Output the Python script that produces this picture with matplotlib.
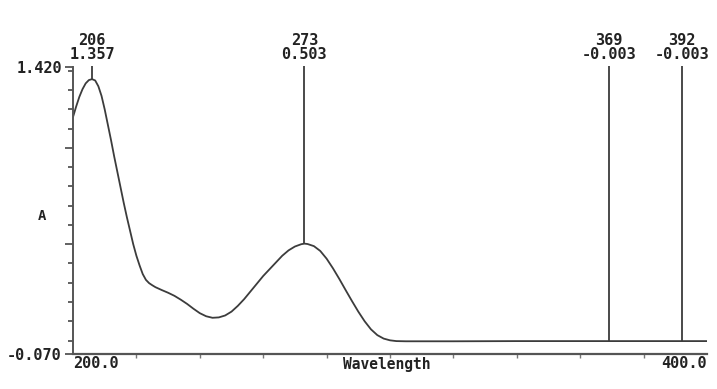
import matplotlib
matplotlib.use("Agg")
import matplotlib.pyplot as plt
import numpy as np

# Spectrum data
wavelength = [200, 201, 202, 203, 204, 205, 206, 207, 208, 209, 210, 211, 212,
              213, 214, 215, 216, 217, 218, 219, 220, 221, 222, 223, 224, 225,
              226, 228, 230, 232, 234, 236, 238, 240, 242, 244, 246, 248, 250,
              252, 254, 256, 258, 260, 262, 264, 266, 268, 270, 272, 273, 274,
              276, 278, 280, 282, 284, 286, 288, 290, 292, 294, 296, 298, 300,
              302, 305, 320, 340, 360, 380, 400]
absorbance = [1.16, 1.215, 1.265, 1.305, 1.335, 1.352, 1.357, 1.35, 1.32, 1.27,
              1.20, 1.12, 1.04, 0.955, 0.875, 0.795, 0.715, 0.64, 0.57, 0.50,
              0.44, 0.39, 0.345, 0.315, 0.298, 0.287, 0.277, 0.262, 0.248,
              0.232, 0.212, 0.19, 0.165, 0.142, 0.126, 0.118, 0.12, 0.13, 0.15,
              0.18, 0.215, 0.255, 0.295, 0.335, 0.37, 0.405, 0.44, 0.468, 0.488,
              0.50, 0.503, 0.501, 0.49, 0.465, 0.425, 0.375, 0.32, 0.262, 0.205,
              0.15, 0.10, 0.058, 0.028, 0.01, 0.001, -0.003, -0.004, -0.004,
              -0.003, -0.003, -0.003, -0.003]

# Peak annotations
peak_wl = [206, 273, 369, 392]
peak_abs = [1.357, 0.503, -0.003, -0.003]
peak_labels = ["206\n1.357", "273\n0.503", "369\n-0.003", "392\n-0.003"]

x_range = [200.0, 400.0]
y_range = [-0.070, 1.420]
x_label = "Wavelength"
y_label = "A"

FONT = dict(family="DejaVu Sans Mono", weight="bold", size=11, color="#222222")
INK = "#3c3c3c"

fig = plt.figure(figsize=(7.17, 3.89), dpi=100)
ax = fig.add_axes([73 / 717, 1 - 354 / 389, (707 - 73) / 717, (354 - 67) / 389])

ax.plot(wavelength, absorbance, color=INK, lw=1.3)

top_line = 1.425
for w, a, lab in zip(peak_wl, peak_abs, peak_labels):
    ax.vlines(w, a, top_line, color=INK, lw=1.3, clip_on=False)
    ax.text(w, top_line + 0.02, lab, ha="center", va="bottom",
            linespacing=0.92, **FONT)

ax.set_xlim(*x_range)
ax.set_ylim(*y_range)

for s in ["top", "right"]:
    ax.spines[s].set_visible(False)
ax.spines["left"].set_color("#555555")
ax.spines["left"].set_linewidth(1.4)
ax.spines["bottom"].set_color("#555555")
ax.spines["bottom"].set_linewidth(1.6)

# y ticks
ax.set_yticks([y_range[0], 0.5, 1.0, y_range[1]])
ax.set_yticklabels([f"{y_range[0]:.3f}", "", "", f"{y_range[1]:.3f}"], **FONT)
ax.set_yticks(np.round(np.arange(0, 1.41, 0.1), 2), minor=True)
ax.tick_params(axis="y", which="major", length=6, width=1.3, color="#555555", pad=2)
ax.tick_params(axis="y", which="minor", length=3.5, width=1.3, color="#555555")

# x ticks
ax.set_xticks(np.arange(220, 400, 20))
ax.set_xticklabels([])
ax.tick_params(axis="x", which="major", length=3, width=1.0, color="#777777")

ax.text(x_range[0], -0.08, f"{x_range[0]:.1f}", ha="left", va="top", **FONT)
ax.text(x_range[1], -0.08, f"{x_range[1]:.1f}", ha="right", va="top", **FONT)
ax.text(299, -0.085, x_label, ha="center", va="top",
        family="DejaVu Sans Mono", weight="bold", size=10.5, color="#222222")
fig.text(42 / 717, 1 - 216 / 389, y_label, ha="center", va="center",
         family="DejaVu Sans Mono", weight="bold", size=10, color="#222222")

fig.savefig("out.png", dpi=100, facecolor="white")
